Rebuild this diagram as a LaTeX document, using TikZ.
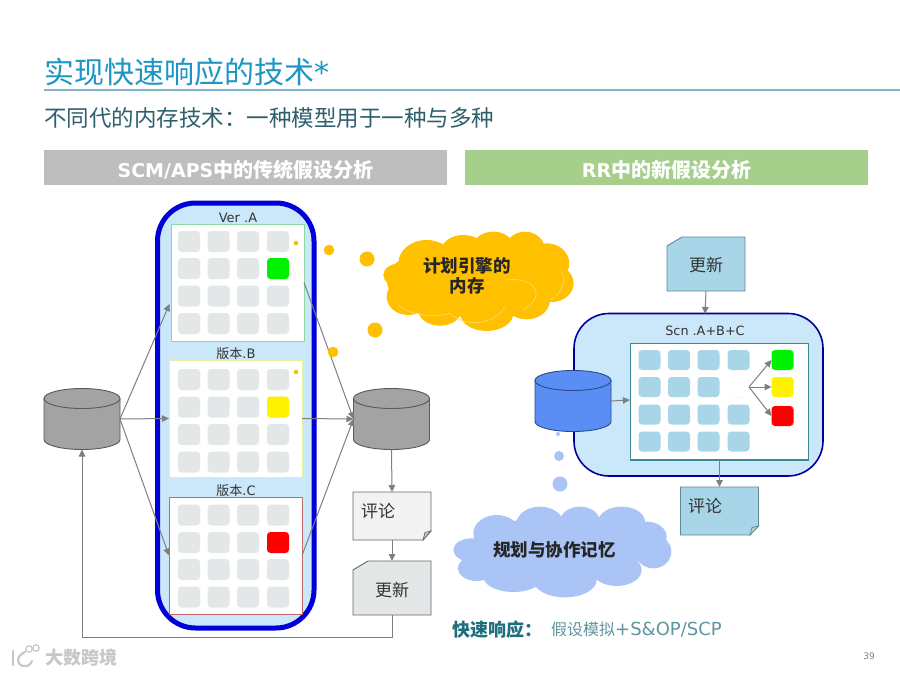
\documentclass[tikz,border=0pt]{standalone}
\usepackage{fontspec}
\setmainfont{Noto Sans CJK SC}
\newfontfamily\latfont{DejaVu Sans}
\usetikzlibrary{arrows.meta}
\definecolor{titleblue}{HTML}{1E96C3}
\definecolor{ruleblue}{HTML}{7FB3C8}
\definecolor{subteal}{HTML}{2F5F6E}
\definecolor{bargrey}{HTML}{BEBEBE}
\definecolor{bargreen}{HTML}{A6CF8C}
\definecolor{panelblue}{HTML}{CBE8FB}
\definecolor{cellgrey}{HTML}{E4E7E8}
\definecolor{cellblue}{HTML}{A9D5E8}
\definecolor{cloudyellow}{HTML}{FFC000}
\definecolor{cloudblue}{HTML}{A9C4F5}
\definecolor{connector}{HTML}{7F7F7F}
\definecolor{framegreen}{HTML}{8CD9A0}
\definecolor{frameyellow}{HTML}{E6F0A0}
\definecolor{framered}{HTML}{C4666E}
\definecolor{frameteal}{HTML}{3A8A92}
\definecolor{docedge}{HTML}{5F8A96}
\definecolor{dbgrey}{HTML}{A3A3A3}
\definecolor{dbblue}{HTML}{5B8EF5}
\definecolor{dbedge}{HTML}{2A4A8A}
\definecolor{fastteal}{HTML}{1F6E80}
\definecolor{fastlight}{HTML}{5F94A0}
\tikzset{
  conn/.style={draw=connector,line width=1pt,-{Triangle[length=7pt,width=6.5pt]}},
  lbl/.style={inner sep=0pt,outer sep=0pt,text=black!80},
  framebox/.style={rectangle,fill=white,line width=1pt,inner sep=0pt,outer sep=0pt,minimum width=133pt,minimum height=117pt},
  cell/.style={rounded corners=3.5pt},
  bartext/.style={inner sep=0pt,text=white,font=\bfseries\fontsize{20}{22}\selectfont},
  cloudtext/.style={inner sep=0pt,align=center,text=black!85,font=\bfseries\fontsize{17.5}{20}\selectfont},
  doctext/.style={inner sep=0pt,text=black!80,font=\fontsize{17}{20}\selectfont},
}
\newcommand{\cellgrid}[5]{%
  \foreach \cx in {#2}{\foreach \cy in {#3}{%
    \fill[#1,cell] (\cx,\cy) rectangle ++(#4,#5);}}}
\newcommand{\dbcyl}[5]{%
  \draw[fill=#4,draw=#5,line width=0.9pt] (#2-38,#3) -- (#2-38,#3+41) arc[start angle=180,end angle=0,x radius=38,y radius=10] -- (#2+38,#3) -- cycle;
  \draw[fill=#4,draw=#5,line width=0.9pt] (#2,#3) ellipse[x radius=38,y radius=10];
  \node[rectangle,inner sep=0pt,outer sep=0pt,minimum width=76pt,minimum height=61pt] (#1) at (#2,#3+20.5) {};}
\begin{document}
\begin{tikzpicture}[x=1pt,y=-1pt]
\useasboundingbox (0,0) rectangle (900,675);
\fill[white] (0,0) rectangle (900,675);
% header
\node[inner sep=0pt,anchor=west,text=titleblue,font=\fontsize{30}{32}\selectfont] (title) at (44,72) {实现快速响应的技术{\latfont *}};
\draw[ruleblue,line width=1.4pt] (44,90) -- (900,90);
\node[inner sep=0pt,anchor=west,text=subteal,font=\fontsize{22.5}{26}\selectfont] (subtitle) at (44,118) {不同代的内存技术：一种模型用于一种与多种};
\fill[bargrey] (44,150) rectangle (447,185);
\fill[bargreen] (465,150) rectangle (868,185);
\node[bartext] (barl) at (245.5,169.5) {{\latfont\fontsize{19}{22}\selectfont SCM/APS}中的传统假设分析};
\node[bartext] (barr) at (666.5,169.5) {{\latfont\fontsize{19}{22}\selectfont RR}中的新假设分析};
% left blue panel
\draw[fill=panelblue,draw=blue!85!black,line width=5pt,rounded corners=38pt] (157.5,203) rectangle (314,628);
\node[lbl,font=\fontsize{13}{15}\selectfont] (la) at (238,218) {{\latfont Ver .A}};
\node[lbl,font=\fontsize{13}{15}\selectfont] (lb) at (236,354) {版本{\latfont .B}};
\node[lbl,font=\fontsize{13}{15}\selectfont] (lc) at (236,491) {版本{\latfont .C}};
\node[framebox,draw=framegreen] (frameA) at (237.5,282.5) {};
\node[framebox,draw=frameyellow] (frameB) at (235.5,418.5) {};
\node[framebox,draw=framered] (frameC) at (235.5,555.5) {};
\cellgrid{cellgrey}{178,207.5,237,267}{231,258,285.5,313}{22}{21}
\cellgrid{cellgrey}{178,207.5,237,267}{369,396.5,424,451.5}{22}{21}
\cellgrid{cellgrey}{178,207.5,237,267}{504.5,532,559,586.5}{22}{21}
\fill[green!95!black,cell] (267,258) rectangle ++(22,21);
\fill[yellow,cell] (267,396.5) rectangle ++(22,21);
\fill[red,cell] (267,532) rectangle ++(22,21);
\fill[cloudyellow!85!orange] (296,243) circle[radius=2.2];
\fill[cloudyellow!85!orange] (296,372) circle[radius=2.2];
% left flow
\dbcyl{cylL}{82}{398.5}{dbgrey}{black!65}
\dbcyl{cylR}{391.5}{398.5}{dbgrey}{black!65}
\coordinate (ainL) at (169.5,304);
\draw[conn] (cylL.east) -- (ainL);
\draw[conn] (cylL.east) -- (frameB.west);
\draw[conn] (cylL.east) -- (frameC.west);
\draw[conn] (frameA.east) -- (cylR.west);
\draw[conn] (frameB.east) -- (cylR.west);
\draw[conn] (frameC.east) -- (cylR.west);
% documents, left
\node[rectangle,inner sep=0pt,outer sep=0pt,minimum width=78pt,minimum height=48pt] (revL) at (392,516) {};
\draw[fill=gray!10,draw=black!60,line width=0.9pt] (353,492) -- (431,492) -- (431,531) -- (423,540) -- (353,540) -- cycle;
\draw[fill=gray!45,draw=black!60,line width=0.7pt] (423,540) -- (425,532.5) -- (431,531) -- cycle;
\node[doctext] (revLt) at (378,511) {评论};
\node[rectangle,inner sep=0pt,outer sep=0pt,minimum width=78pt,minimum height=54pt] (updL) at (392,588) {};
\draw[fill=cellgrey,draw=black!60,line width=0.9pt] (368,561) -- (431,561) -- (431,615) -- (353,615) -- (353,570) -- cycle;
\node[doctext] (updLt) at (392,590) {更新};
\draw[conn] (cylR.south) -- (revL.north);
\draw[conn] (revL.south) -- (updL.north);
\coordinate (loopA) at (392,637);
\coordinate (loopB) at (82,637);
\draw[conn] (updL.south) -- (loopA) -- (loopB) -- (cylL.south);
% yellow bubbles and cloud
\fill[cloudyellow] (329,250) circle[radius=5.3];
\fill[cloudyellow] (367,259) circle[radius=7.5];
\fill[cloudyellow] (375,330) circle[radius=7.5];
\fill[cloudyellow] (333,352) circle[radius=5.3];
\begin{scope}[shift={(320,200)},x=0.3333pt,y=-0.3333pt]
  \fill[cloudyellow]
    (320,190) ellipse[x radius=85,y radius=70]
    (430,150) ellipse[x radius=65,y radius=45]
    (520,140) ellipse[x radius=60,y radius=45]
    (615,150) ellipse[x radius=60,y radius=55]
    (680,190) ellipse[x radius=68,y radius=60]
    (695,250) ellipse[x radius=66,y radius=56]
    (620,300) ellipse[x radius=70,y radius=58]
    (500,340) ellipse[x radius=80,y radius=53]
    (360,330) ellipse[x radius=65,y radius=47]
    (265,290) ellipse[x radius=65,y radius=55]
    (240,225) ellipse[x radius=50,y radius=35]
    (450,240) ellipse[x radius=250,y radius=110];
  \draw[cloudyellow!55!white,line width=0.6pt]
    (560,240) .. controls (650,230) and (680,290) .. (610,330)
    (390,340) .. controls (430,380) and (520,380) .. (555,320)
    (235,315) .. controls (270,345) and (340,355) .. (390,340)
    (690,300) .. controls (730,280) and (740,240) .. (725,215);
\end{scope}
\node[cloudtext] (ycl1) at (467,265.5) {计划引擎的};
\node[cloudtext] (ycl2) at (467,286) {内存};
% right panel
\draw[fill=panelblue,draw=blue!60!black,line width=1.6pt,rounded corners=35pt] (574,313.5) rectangle (823,476);
\node[lbl,font=\fontsize{12.8}{15}\selectfont] (scn) at (705,331) {{\latfont Scn .A+B+C}};
\node[rectangle,fill=white,draw=frameteal,line width=1.5pt,inner sep=0pt,outer sep=0pt,minimum width=178pt,minimum height=116.5pt] (frameR) at (719.5,401.5) {};
\cellgrid{cellblue}{638.5,668,697.5,727.5}{350,377,404.5,431.5}{22}{20}
\fill[white] (727,376) rectangle (751,397);
\fill[green!95!black,cell] (771.5,350) rectangle ++(22,20);
\fill[yellow,cell] (771.5,377) rectangle ++(22,20);
\fill[red,cell] (771.5,406) rectangle ++(22,20);
\node[rectangle,inner sep=0pt,minimum size=1pt] (srcp) at (749,387) {};
\node[rectangle,inner sep=0pt,outer sep=0pt,minimum width=22pt,minimum height=20pt] (tgG) at (782.5,360) {};
\node[rectangle,inner sep=0pt,outer sep=0pt,minimum width=22pt,minimum height=20pt] (tgY) at (782.5,387) {};
\node[rectangle,inner sep=0pt,outer sep=0pt,minimum width=22pt,minimum height=20pt] (tgR) at (782.5,416) {};
\draw[conn] (srcp.center) -- (tgG.west);
\draw[conn] (srcp.center) -- (tgY.west);
\draw[conn] (srcp.center) -- (tgR.west);
\dbcyl{cylB}{573}{380.5}{dbblue}{dbedge}
\coordinate (frameRin) at (630,400);
\draw[conn] (cylB.east) -- (frameRin);
% documents, right
\node[rectangle,inner sep=0pt,outer sep=0pt,minimum width=78pt,minimum height=54pt] (updR) at (706,264) {};
\draw[fill=cellblue,draw=docedge,line width=0.9pt] (682,237) -- (745,237) -- (745,291) -- (667,291) -- (667,246) -- cycle;
\node[doctext] (updRt) at (706,265) {更新};
\coordinate (pTop) at (705,314);
\draw[conn] (updR.south) -- (pTop);
\node[rectangle,inner sep=0pt,outer sep=0pt,minimum width=78pt,minimum height=48pt] (revR) at (719.5,511) {};
\draw[fill=cellblue,draw=docedge,line width=0.9pt] (680.5,487) -- (758.5,487) -- (758.5,526) -- (750,535) -- (680.5,535) -- cycle;
\draw[fill=gray!45,draw=docedge,line width=0.7pt] (750,535) -- (752,527.5) -- (758.5,526) -- cycle;
\node[doctext] (revRt) at (705,506) {评论};
\draw[conn] (frameR.south) -- (revR.north);
% blue bubbles and cloud
\fill[cloudblue] (558,434) circle[radius=2];
\fill[cloudblue] (559,456) circle[radius=5];
\fill[cloudblue] (560,484) circle[radius=7.5];
\begin{scope}[shift={(440,420)},x=0.3333pt,y=-0.3333pt]
  \fill[cloudblue]
    (170,340) ellipse[x radius=70,y radius=55]
    (300,310) ellipse[x radius=70,y radius=50]
    (420,305) ellipse[x radius=60,y radius=45]
    (545,305) ellipse[x radius=70,y radius=45]
    (620,350) ellipse[x radius=60,y radius=45]
    (640,395) ellipse[x radius=54,y radius=50]
    (530,450) ellipse[x radius=75,y radius=48]
    (375,480) ellipse[x radius=95,y radius=52]
    (220,470) ellipse[x radius=90,y radius=46]
    (110,445) ellipse[x radius=56,y radius=38]
    (95,390) ellipse[x radius=55,y radius=35]
    (350,390) ellipse[x radius=260,y radius=100];
\end{scope}
\node[cloudtext,font=\bfseries\fontsize{17.5}{20}\selectfont] (bcl) at (554.5,550) {规划与协作记忆};
% footer
\node[inner sep=0pt,anchor=west,text=fastteal,font=\bfseries\fontsize{18}{20}\selectfont] (fast) at (452,630) {快速响应：};
\node[inner sep=0pt,anchor=west,text=fastlight,font=\fontsize{16}{20}\selectfont] (fast2) at (551,630) {假设模拟{\latfont\fontsize{18}{20}\selectfont +S\&OP/SCP}};
\node[inner sep=0pt,text=gray,font=\fontsize{9}{10}\selectfont] (pg) at (869,656) {{\latfont 39}};
\node[inner sep=0pt,text=black!22,font=\bfseries\fontsize{18}{20}\selectfont] (wm) at (81,658) {大数跨境};
\draw[black!22,line width=2.2pt,line cap=round] (13,651) -- (13,665);
\draw[black!22,line width=2.2pt,line cap=round] (25,652) .. controls (16,656) and (16,664) .. (23,666) .. controls (28,667) and (31,664) .. (32,661);
\draw[black!22,line width=1.2pt] (29,649) circle[radius=3.2] (36,648) circle[radius=3.2];
\end{tikzpicture}
\end{document}
